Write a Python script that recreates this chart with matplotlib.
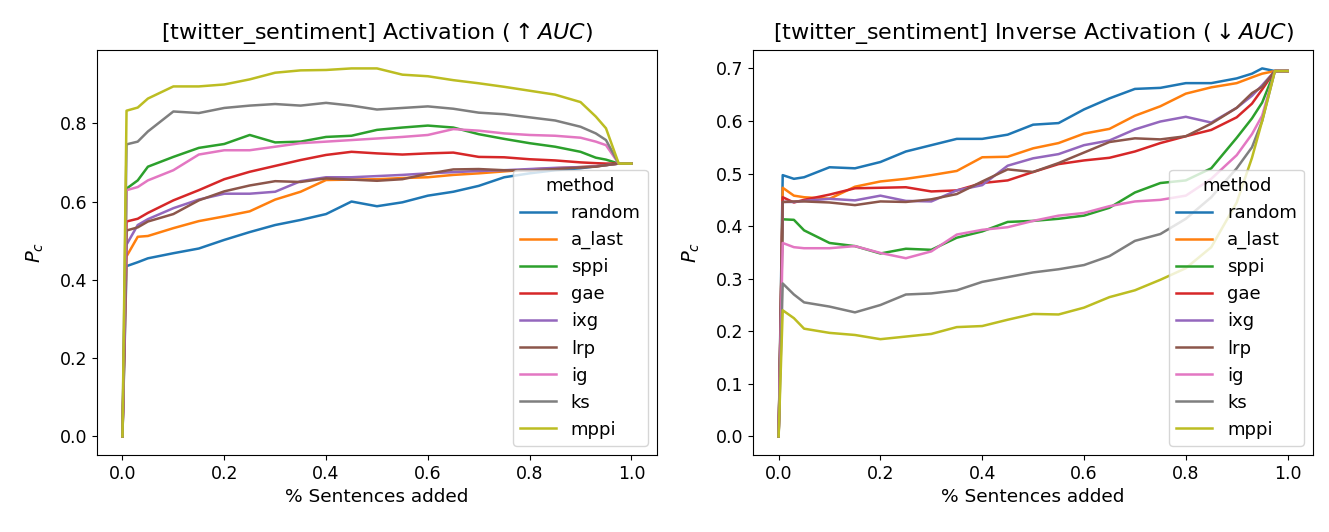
import matplotlib
matplotlib.use("Agg")
import matplotlib.pyplot as plt

# x positions (fraction of sentences added) at which values were read
x_pts = [0.0, 0.008, 0.03, 0.05, 0.1, 0.15, 0.2, 0.25, 0.3, 0.35, 0.4, 0.45, 0.5,
         0.55, 0.6, 0.65, 0.7, 0.75, 0.8, 0.85, 0.9, 0.93, 0.95, 0.975, 1.0]

methods = ["random", "a_last", "sppi", "gae", "ixg", "lrp", "ig", "ks", "mppi"]

# Activation (higher AUC is better)
act_random = [0, 0.435, 0.445, 0.455, 0.468, 0.48, 0.502, 0.522, 0.54, 0.553, 0.568, 0.600, 0.588,
              0.598, 0.615, 0.625, 0.64, 0.662, 0.672, 0.68, 0.685, 0.69, 0.693, 0.697, 0.697]
act_a_last = [0, 0.46, 0.51, 0.512, 0.532, 0.55, 0.562, 0.575, 0.605, 0.625, 0.655, 0.656, 0.657,
              0.66, 0.662, 0.668, 0.672, 0.677, 0.682, 0.685, 0.688, 0.69, 0.693, 0.697, 0.697]
act_sppi = [0, 0.633, 0.654, 0.689, 0.714, 0.737, 0.747, 0.770, 0.751, 0.753, 0.765, 0.768, 0.783,
            0.789, 0.794, 0.789, 0.772, 0.760, 0.749, 0.740, 0.727, 0.712, 0.707, 0.697, 0.697]
act_gae = [0, 0.549, 0.556, 0.571, 0.603, 0.629, 0.657, 0.676, 0.691, 0.706, 0.719, 0.727, 0.723,
           0.720, 0.723, 0.725, 0.714, 0.713, 0.708, 0.705, 0.700, 0.698, 0.697, 0.697, 0.697]
act_ixg = [0, 0.49, 0.54, 0.555, 0.583, 0.605, 0.62, 0.62, 0.625, 0.652, 0.662, 0.662, 0.665,
           0.668, 0.672, 0.675, 0.678, 0.68, 0.683, 0.686, 0.688, 0.69, 0.693, 0.697, 0.697]
act_lrp = [0, 0.526, 0.534, 0.549, 0.568, 0.603, 0.626, 0.641, 0.652, 0.650, 0.659, 0.656, 0.653,
           0.657, 0.671, 0.682, 0.683, 0.680, 0.679, 0.683, 0.687, 0.689, 0.693, 0.697, 0.697]
act_ig = [0, 0.629, 0.637, 0.654, 0.680, 0.720, 0.731, 0.731, 0.740, 0.749, 0.753, 0.757, 0.761,
          0.765, 0.770, 0.785, 0.781, 0.774, 0.770, 0.768, 0.763, 0.753, 0.744, 0.697, 0.697]
act_ks = [0, 0.746, 0.753, 0.779, 0.830, 0.826, 0.839, 0.845, 0.849, 0.845, 0.852, 0.845, 0.835,
          0.839, 0.843, 0.837, 0.827, 0.823, 0.815, 0.807, 0.791, 0.774, 0.757, 0.697, 0.697]
act_mppi = [0, 0.832, 0.840, 0.863, 0.894, 0.894, 0.899, 0.912, 0.929, 0.935, 0.936, 0.940, 0.940,
            0.924, 0.920, 0.910, 0.902, 0.893, 0.883, 0.873, 0.854, 0.817, 0.787, 0.697, 0.697]

# Inverse activation (lower AUC is better)
inv_random = [0, 0.497, 0.490, 0.493, 0.512, 0.51, 0.522, 0.542, 0.554, 0.566, 0.566, 0.574, 0.593,
              0.596, 0.622, 0.643, 0.661, 0.663, 0.672, 0.672, 0.681, 0.69, 0.700, 0.695, 0.695]
inv_a_last = [0, 0.473, 0.458, 0.455, 0.452, 0.475, 0.485, 0.49, 0.497, 0.505, 0.531, 0.532, 0.548,
              0.558, 0.576, 0.585, 0.61, 0.628, 0.652, 0.664, 0.672, 0.683, 0.69, 0.695, 0.695]
inv_sppi = [0, 0.413, 0.412, 0.392, 0.368, 0.362, 0.348, 0.357, 0.355, 0.378, 0.39, 0.408, 0.41,
            0.414, 0.42, 0.435, 0.464, 0.482, 0.487, 0.51, 0.568, 0.605, 0.635, 0.695, 0.695]
inv_gae = [0, 0.455, 0.445, 0.45, 0.46, 0.472, 0.473, 0.474, 0.466, 0.468, 0.482, 0.487, 0.503,
           0.518, 0.525, 0.53, 0.542, 0.558, 0.571, 0.583, 0.607, 0.633, 0.66, 0.695, 0.695]
inv_ixg = [0, 0.446, 0.446, 0.448, 0.452, 0.449, 0.458, 0.448, 0.447, 0.468, 0.478, 0.515, 0.529,
           0.537, 0.554, 0.563, 0.584, 0.599, 0.608, 0.597, 0.625, 0.648, 0.668, 0.695, 0.695]
inv_lrp = [0, 0.446, 0.447, 0.447, 0.445, 0.44, 0.447, 0.446, 0.451, 0.461, 0.485, 0.508, 0.503,
           0.52, 0.54, 0.56, 0.567, 0.565, 0.571, 0.595, 0.625, 0.653, 0.665, 0.695, 0.695]
inv_ig = [0, 0.368, 0.36, 0.358, 0.358, 0.362, 0.349, 0.339, 0.352, 0.384, 0.393, 0.398, 0.41,
          0.42, 0.425, 0.438, 0.447, 0.45, 0.458, 0.49, 0.535, 0.575, 0.61, 0.695, 0.695]
inv_ks = [0, 0.291, 0.27, 0.255, 0.247, 0.236, 0.25, 0.27, 0.272, 0.278, 0.294, 0.303, 0.312,
          0.318, 0.326, 0.343, 0.372, 0.385, 0.414, 0.455, 0.51, 0.55, 0.6, 0.695, 0.695]
inv_mppi = [0, 0.24, 0.225, 0.205, 0.197, 0.193, 0.185, 0.19, 0.195, 0.208, 0.21, 0.222, 0.233,
            0.232, 0.245, 0.265, 0.278, 0.298, 0.32, 0.36, 0.445, 0.53, 0.6, 0.695, 0.695]

act_series = [act_random, act_a_last, act_sppi, act_gae, act_ixg, act_lrp, act_ig, act_ks, act_mppi]
inv_series = [inv_random, inv_a_last, inv_sppi, inv_gae, inv_ixg, inv_lrp, inv_ig, inv_ks, inv_mppi]

fig, axes = plt.subplots(1, 2, figsize=(13.29, 5.32), dpi=100)

panels = [
    (axes[0], act_series, r"[twitter_sentiment] Activation ($\uparrow AUC$)"),
    (axes[1], inv_series, r"[twitter_sentiment] Inverse Activation ($\downarrow AUC$)"),
]

for ax, series, title in panels:
    for name, vals in zip(methods, series):
        ax.plot(x_pts, vals, label=name, linewidth=1.8)
    ax.set_title(title, fontsize=16, pad=8)
    ax.set_xlabel("% Sentences added", fontsize=13.3)
    ax.set_ylabel("$P_c$", fontsize=14, labelpad=10)
    ax.tick_params(labelsize=12.5)
    ax.legend(title="method", loc="lower right", fontsize=13, title_fontsize=13)

plt.subplots_adjust(left=0.073, right=0.988, bottom=0.145, top=0.906, wspace=0.172)
plt.savefig("out.png", dpi=100)
